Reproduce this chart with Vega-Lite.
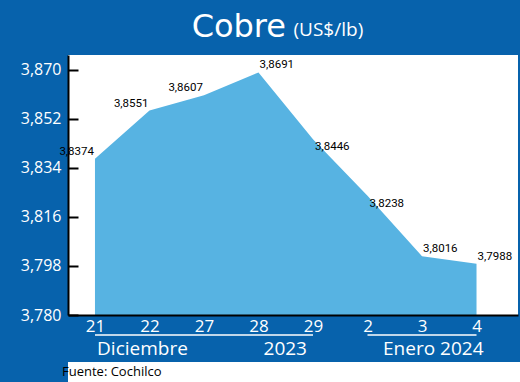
{
  "$schema": "https://vega.github.io/schema/vega-lite/v6.json",
  "background": "#0762ac",
  "padding": {"left": 20, "top": 11, "right": 0, "bottom": 0},
  "columns": 1,
  "align": "none",
  "spacing": 2,
  "config": {
    "locale": {"number": {"decimal": ",", "thousands": ".", "grouping": [3], "currency": ["$", ""]}},
    "font": "Open Sans"
  },
  "datasets": {
    "cobre": [
      {"dia": "21", "valor": 3.8374},
      {"dia": "22", "valor": 3.8551},
      {"dia": "27", "valor": 3.8607},
      {"dia": "28", "valor": 3.8691},
      {"dia": "29", "valor": 3.8446},
      {"dia": "2", "valor": 3.8238},
      {"dia": "3", "valor": 3.8016},
      {"dia": "4", "valor": 3.7988}
    ]
  },
  "concat": [
    {
      "width": 450,
      "height": 260,
      "view": {"fill": "white", "stroke": null},
      "title": {"text": "Cobre", "font": "DejaVu Sans", "fontSize": 32, "fontWeight": "normal", "color": "white", "anchor": "middle", "align": "right", "dx": -7, "dy": 49, "baseline": "alphabetic", "offset": 0, "frame": "group"},
      "data": {"name": "cobre"},
      "resolve": {"axis": {"x": "independent", "y": "independent"}},
      "layer": [
        {
          "mark": {"type": "area", "color": "#57b3e2", "opacity": 1, "clip": true},
          "encoding": {
            "x": {"field": "dia", "type": "ordinal", "sort": null,
              "scale": {"type": "point", "padding": 0.628, "align": 0.394, "domain": ["21", "22", "27", "28", "29", "2", "3", "4"]},
              "axis": {"orient": "bottom", "zindex": 1, "title": null, "labelColor": "white", "labelFont": "Open Sans", "labelFontSize": 17, "labelAngle": 0, "labelOverlap": false, "ticks": false, "domainColor": "black", "domainWidth": 2, "labelPadding": 3, "grid": false}},
            "y": {"field": "valor", "type": "quantitative", "stack": null,
              "scale": {"domain": [3.78, 3.8755], "nice": false, "zero": false},
              "axis": {"values": [3.78, 3.798, 3.816, 3.834, 3.852, 3.87], "zindex": 1, "format": ".3f", "title": null, "labelColor": "white", "labelFont": "Open Sans", "labelFontSize": 16, "labelOverlap": false, "tickSize": -10, "tickWidth": 2, "tickColor": "black", "domainColor": "black", "domainWidth": 2, "labelPadding": 17, "grid": false}},
            "y2": {"datum": 3.78}
          }
        },
        {
          "transform": [{"filter": {"field": "dia", "oneOf": ["21", "22", "27"]}}],
          "mark": {"type": "text", "align": "right", "baseline": "bottom", "dx": -1, "dy": -2, "font": "Liberation Sans Narrow, Roboto", "fontSize": 11.5, "color": "black"},
          "encoding": {
            "x": {"field": "dia", "type": "ordinal", "sort": null, "axis": null},
            "y": {"field": "valor", "type": "quantitative", "axis": null},
            "text": {"field": "valor", "type": "quantitative", "format": ".4f"}
          }
        },
        {
          "transform": [{"filter": {"field": "dia", "oneOf": ["28", "3", "4"]}}],
          "mark": {"type": "text", "align": "left", "baseline": "bottom", "dx": 1, "dy": -2, "font": "Liberation Sans Narrow, Roboto", "fontSize": 11.5, "color": "black"},
          "encoding": {
            "x": {"field": "dia", "type": "ordinal", "sort": null,
              "axis": {"orient": "top", "labels": false, "ticks": false, "domain": false, "grid": false, "minExtent": 0, "title": "(US$/lb)", "titleColor": "white", "titleFont": "Open Sans", "titleFontSize": 19, "titleFontWeight": "normal", "titleAnchor": "middle", "titleAlign": "left", "titleBaseline": "alphabetic", "titlePadding": 20}},
            "y": {"field": "valor", "type": "quantitative", "axis": null},
            "text": {"field": "valor", "type": "quantitative", "format": ".4f"}
          }
        },
        {
          "transform": [{"filter": {"field": "dia", "oneOf": ["29", "2"]}}],
          "mark": {"type": "text", "align": "left", "baseline": "top", "dx": 2, "dy": 2, "font": "Liberation Sans Narrow, Roboto", "fontSize": 11.5, "color": "black"},
          "encoding": {
            "x": {"field": "dia", "type": "ordinal", "sort": null, "axis": null},
            "y": {"field": "valor", "type": "quantitative", "axis": null},
            "text": {"field": "valor", "type": "quantitative", "format": ".4f"}
          }
        },
        {
          "data": {"values": [{}]},
          "mark": {"type": "rule", "color": "white", "strokeWidth": 1.5},
          "encoding": {
            "x": {"datum": "21", "type": "ordinal", "axis": null},
            "x2": {"datum": "29"},
            "y": {"datum": 3.77265, "type": "quantitative", "axis": null}
          }
        },
        {
          "data": {"values": [{}]},
          "mark": {"type": "rule", "color": "white", "strokeWidth": 1.5},
          "encoding": {
            "x": {"datum": "2", "type": "ordinal", "axis": null},
            "x2": {"datum": "4"},
            "y": {"datum": 3.77265, "type": "quantitative", "axis": null}
          }
        },
        {
          "data": {"values": [{}]},
          "mark": {"type": "text", "text": "Diciembre", "align": "center", "baseline": "middle", "dx": -7, "font": "Open Sans", "fontSize": 19, "color": "white"},
          "encoding": {
            "x": {"datum": "22", "type": "ordinal", "axis": null},
            "y": {"datum": 3.7675, "type": "quantitative", "axis": null}
          }
        },
        {
          "data": {"values": [{}]},
          "mark": {"type": "text", "text": "2023", "align": "right", "baseline": "middle", "dx": -6, "font": "Open Sans", "fontSize": 19, "color": "white"},
          "encoding": {
            "x": {"datum": "29", "type": "ordinal", "axis": null},
            "y": {"datum": 3.7675, "type": "quantitative", "axis": null}
          }
        },
        {
          "data": {"values": [{}]},
          "mark": {"type": "text", "text": "Enero 2024", "align": "right", "baseline": "middle", "dx": 7, "font": "Open Sans", "fontSize": 19, "color": "white"},
          "encoding": {
            "x": {"datum": "4", "type": "ordinal", "axis": null},
            "y": {"datum": 3.7675, "type": "quantitative", "axis": null}
          }
        }
      ]
    },
    {
      "width": 500,
      "height": 20,
      "view": {"fill": "white", "stroke": null},
      "data": {"values": [{"fuente": "Fuente: Cochilco"}]},
      "mark": {"type": "text", "align": "left", "baseline": "middle", "font": "Open Sans", "fontSize": 13, "color": "black", "dx": -6},
      "encoding": {
        "x": {"field": "fuente", "type": "nominal", "scale": {"type": "point", "padding": 0, "align": 0}, "axis": null},
        "text": {"field": "fuente"}
      }
    }
  ]
}
